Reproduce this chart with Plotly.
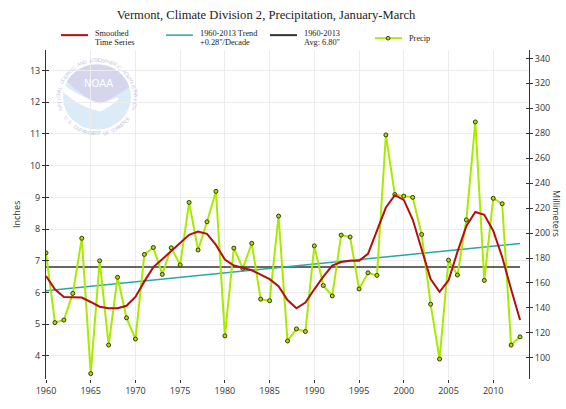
import math
import plotly.graph_objects as go

# ---- data -------------------------------------------------------------
YEARS = list(range(1960, 2014))

PRECIP_IN = [
    7.25, 5.05, 5.13, 5.97, 7.71, 3.44, 7.00, 4.34, 6.48, 5.20,
    4.53, 7.20, 7.42, 6.57, 7.41, 6.87, 8.84, 7.34, 8.23, 9.19,
    4.63, 7.40, 6.76, 7.55, 5.79, 5.74, 8.41, 4.47, 4.85, 4.77,
    7.47, 6.22, 5.89, 7.81, 7.75, 6.11, 6.62, 6.54, 10.97, 9.09,
    9.04, 9.00, 7.83, 5.63, 3.90, 7.02, 6.55, 8.29, 11.38, 6.38,
    8.97, 8.80, 4.34, 4.60,
]

SMOOTHED_IN = [
    6.52, 6.10, 5.86, 5.86, 5.84, 5.70, 5.55, 5.50, 5.50, 5.58,
    5.86, 6.35, 6.80, 7.05, 7.30, 7.55, 7.82, 7.92, 7.85, 7.50,
    7.04, 6.85, 6.78, 6.70, 6.56, 6.42, 6.20, 5.76, 5.50, 5.68,
    6.10, 6.50, 6.85, 6.96, 7.00, 7.00, 7.22, 7.95, 8.68, 9.07,
    8.92, 8.30, 7.38, 6.42, 6.02, 6.38, 7.28, 8.10, 8.54, 8.45,
    7.95, 7.12, 6.10, 5.13,
]

AVG_IN = 6.80                 # 1960-2013 average
TREND_IN_PER_DECADE = 0.28    # 1960-2013 linear trend

YEAR_TICKS = list(range(1960, 2011, 5))
INCH_TICKS = list(range(4, 14))
MM_TICKS = list(range(100, 341, 20))
MM_PER_INCH = 25.4

TITLE = "Vermont, Climate Division 2, Precipitation, January-March"

# ---- geometry ---------------------------------------------------------
W, H = 566, 409
L, R, T, B = 46, 529, 50, 393
X_RANGE = [1960, 2014]
Y_RANGE = [3.27, 13.65]


def px(x):
    return (x - L) / (R - L)


def py(y):
    return (B - y) / (B - T)


mid_year = (YEARS[0] + YEARS[-1]) / 2
trend = [AVG_IN + TREND_IN_PER_DECADE / 10 * (y - mid_year) for y in YEARS]
avg_line = [AVG_IN for _ in YEARS]
precip_mm = [v * MM_PER_INCH for v in PRECIP_IN]

RED = "#b30f0f"
TEAL = "#2ba4aa"
BLACK = "#333333"
GREEN = "#a8ea00"
MARKER_FILL = "#b5d80a"
MARKER_EDGE = "#2e3a10"
GRID = "#ececec"
AXIS = "#333333"
TICK_FONT = dict(family="Open Sans", size=9, color="#333333")
SERIF = "Liberation Serif"

fig = go.Figure()

fig.add_trace(go.Scatter(x=YEARS, y=avg_line, mode="lines",
                         line=dict(color=BLACK, width=1.5),
                         name="1960-2013 Avg", hoverinfo="skip"))
fig.add_trace(go.Scatter(x=YEARS, y=trend, mode="lines",
                         line=dict(color=TEAL, width=1.5),
                         name="1960-2013 Trend", hoverinfo="skip"))
fig.add_trace(go.Scatter(x=YEARS, y=PRECIP_IN, mode="lines+markers",
                         line=dict(color=GREEN, width=2),
                         marker=dict(size=4, color=MARKER_FILL,
                                     line=dict(color=MARKER_EDGE, width=1)),
                         name="Precip"))
fig.add_trace(go.Scatter(x=YEARS, y=SMOOTHED_IN, mode="lines",
                         line=dict(color=RED, width=2),
                         name="Smoothed Time Series"))

# the same precipitation in millimetres carries the right-hand scale;
# the extra overlays only add inward tick marks on both sides
for y_vals, axis in ((precip_mm, "y2"), (PRECIP_IN, "y3"), (precip_mm, "y4")):
    fig.add_trace(go.Scatter(x=YEARS, y=y_vals, yaxis=axis, mode="markers",
                             marker=dict(size=1, opacity=0), hoverinfo="skip",
                             showlegend=False))

# ---- watermark logo ---------------------------------------------------
CX, CY, RD = 97, 99, 34
shapes = []
annotations = []

shapes.append(dict(type="circle", xref="paper", yref="paper",
                   x0=px(CX - RD), x1=px(CX + RD), y0=py(CY + RD), y1=py(CY - RD),
                   fillcolor="#dcebf8", line=dict(width=0), layer="between"))


def pt(x, y):
    return f"{px(x):.5f},{py(y):.5f}"


arc = []
for k in range(0, 41):
    a = math.radians(152 - k * (152 - 26) / 40)
    arc.append((CX + RD * math.cos(a), CY - RD * math.sin(a)))
lav = "M " + pt(*arc[0]) + " " + " ".join("L " + pt(*p) for p in arc[1:])
lav += " L " + pt(129, 89) + " Q " + pt(113, 100) + " " + pt(100, 106)
lav += " Q " + pt(84, 100) + " " + pt(*arc[0]) + " Z"
shapes.append(dict(type="path", xref="paper", yref="paper", path=lav,
                   fillcolor="#d5d5ee", line=dict(width=0), layer="between"))

bird = "M " + pt(63, 86) + " Q " + pt(84, 101) + " " + pt(100, 106)
bird += " Q " + pt(109, 104) + " " + pt(117, 99) + " L " + pt(119, 101)
bird += " Q " + pt(110, 110) + " " + pt(100, 114) + " Q " + pt(80, 110) + " " + pt(62, 93) + " Z"
shapes.append(dict(type="path", xref="paper", yref="paper", path=bird,
                   fillcolor="#ffffff", line=dict(width=0), layer="between"))

annotations.append(dict(text="NOAA", x=px(98), y=py(85), xref="paper", yref="paper",
                        showarrow=False, xanchor="center", yanchor="middle",
                        font=dict(family="DejaVu Sans", size=10, color="#ffffff")))

RING_COLOR = "#c8c8e6"
top_text = "NATIONAL OCEANIC AND ATMOSPHERIC ADMINISTRATION"
n = len(top_text)
for i, ch in enumerate(top_text):
    a = 198 - i * (198 + 18) / (n - 1)
    r = math.radians(a)
    annotations.append(dict(text=ch, x=px(CX + 38.5 * math.cos(r)), y=py(CY - 38.5 * math.sin(r)),
                            xref="paper", yref="paper", showarrow=False,
                            xanchor="center", yanchor="middle", textangle=90 - a,
                            font=dict(family="Liberation Sans", size=5, color=RING_COLOR)))
bot_text = "U.S. DEPARTMENT OF COMMERCE"
n = len(bot_text)
for i, ch in enumerate(bot_text):
    a = 216 + i * (324 - 216) / (n - 1)
    r = math.radians(a)
    annotations.append(dict(text=ch, x=px(CX + 38 * math.cos(r)), y=py(CY - 38 * math.sin(r)),
                            xref="paper", yref="paper", showarrow=False,
                            xanchor="center", yanchor="middle", textangle=270 - a,
                            font=dict(family="Liberation Sans", size=5, color=RING_COLOR)))

# ---- legend row -------------------------------------------------------
LEG_FONT = dict(family=SERIF, size=8.3, color="#222222")
legend_items = [
    (61, 34.5, RED, ["Smoothed", "Time Series"]),
    (166, 34.5, TEAL, ["1960-2013 Trend", "+0.28\"/Decade"]),
    (270, 34.5, BLACK, ["1960-2013", "Avg: 6.80\""]),
    (375, 37.7, GREEN, ["Precip"]),
]
for x0, y0, col, lines in legend_items:
    shapes.append(dict(type="line", xref="paper", yref="paper",
                       x0=px(x0), x1=px(x0 + 27), y0=py(y0), y1=py(y0),
                       line=dict(color=col, width=2 if col != TEAL else 1.5)))
    if len(lines) == 1:
        ys = [y0]
    else:
        ys = [32.7, 42.3]
    for txt, yy in zip(lines, ys):
        annotations.append(dict(text=txt, x=px(x0 + 31.5), y=py(yy), xref="paper", yref="paper",
                                showarrow=False, xanchor="left", yanchor="middle", font=LEG_FONT))
shapes.append(dict(type="circle", xref="paper", yref="paper",
                   x0=px(386.2), x1=px(390), y0=py(39.6), y1=py(35.8),
                   fillcolor=MARKER_FILL, line=dict(color=MARKER_EDGE, width=1)))

# ---- axis titles ------------------------------------------------------
annotations.append(dict(text="Inches", x=px(17), y=py(222), xref="paper", yref="paper",
                        showarrow=False, textangle=-90, xanchor="center", yanchor="middle",
                        font=dict(family="Open Sans", size=9, color="#333333")))
annotations.append(dict(text="Millimeters", x=px(557), y=py(220), xref="paper", yref="paper",
                        showarrow=False, textangle=90, xanchor="center", yanchor="middle",
                        font=dict(family="Open Sans", size=9, color="#333333")))

mm_range = [v * MM_PER_INCH for v in Y_RANGE]

fig.update_layout(
    width=W, height=H, autosize=False,
    margin=dict(l=L, r=W - R, t=T, b=H - B, pad=0),
    paper_bgcolor="white", plot_bgcolor="white",
    showlegend=False,
    title=dict(text=TITLE, xref="container", yref="container",
               x=266 / W, y=1 - 15 / H, xanchor="center", yanchor="middle",
               font=dict(family=SERIF, size=12.6, color="#222222")),
    xaxis=dict(range=X_RANGE, tickvals=YEAR_TICKS, ticks="outside", ticklen=3,
               tickcolor=AXIS, showline=False, showgrid=True, gridcolor=GRID,
               gridwidth=1, zeroline=False, tickfont=TICK_FONT),
    yaxis=dict(range=Y_RANGE, tickvals=INCH_TICKS, ticks="outside", ticklen=3,
               tickcolor=AXIS, showline=True, linecolor=AXIS, linewidth=1,
               showgrid=True, gridcolor=GRID, gridwidth=1, zeroline=False,
               tickfont=TICK_FONT),
    yaxis2=dict(range=mm_range, tickvals=MM_TICKS, overlaying="y", side="right",
                anchor="x", ticks="outside", ticklen=3, tickcolor=AXIS,
                showline=True, linecolor=AXIS, linewidth=1, showgrid=False,
                zeroline=False, tickfont=TICK_FONT),
    yaxis3=dict(range=Y_RANGE, tickvals=INCH_TICKS, overlaying="y", side="left",
                anchor="x", ticks="inside", ticklen=3, tickcolor=AXIS,
                showticklabels=False, showline=False, showgrid=False, zeroline=False),
    yaxis4=dict(range=mm_range, tickvals=MM_TICKS, overlaying="y", side="right",
                anchor="x", ticks="inside", ticklen=3, tickcolor=AXIS,
                showticklabels=False, showline=False, showgrid=False, zeroline=False),
    shapes=shapes,
    annotations=annotations,
)

fig.write_html("out.html")
